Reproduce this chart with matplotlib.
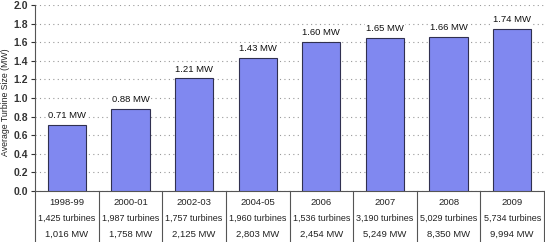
import matplotlib.pyplot as plt
import numpy as np

plt.rcParams['font.family'] = ['Liberation Sans', 'DejaVu Sans']

years = ['1998-99', '2000-01', '2002-03', '2004-05', '2006', '2007', '2008', '2009']
avg_size = [0.71, 0.88, 1.21, 1.43, 1.60, 1.65, 1.66, 1.74]
turbines = ['1,425', '1,987', '1,757', '1,960', '1,536', '3,190', '5,029', '5,734']
capacity = ['1,016', '1,758', '2,125', '2,803', '2,454', '5,249', '8,350', '9,994']

W, H = 545, 242
fig = plt.figure(figsize=(W / 100, H / 100), dpi=100)

# main bar axes
left, right, top, bottom = 35, 544, 5, 191
ax = fig.add_axes([left / W, 1 - bottom / H, (right - left) / W, (bottom - top) / H])

x = np.arange(len(years))
ax.bar(x, avg_size, width=0.6, color='#8088f0', edgecolor='#303050', linewidth=0.8, zorder=3)

for xi, v in zip(x, avg_size):
    ax.annotate('%.2f MW' % v, (xi, v), xytext=(0, 3.5), textcoords='offset points',
                ha='center', va='bottom', fontsize=6.8, color='#111111',
                bbox=dict(facecolor='white', edgecolor='none', pad=1), zorder=4)

ax.set_xlim(-0.5, len(years) - 0.5)
ax.set_ylim(0, 2.0)
ax.set_yticks(np.arange(0, 2.01, 0.2))
ax.set_yticklabels(['%.1f' % t for t in np.arange(0, 2.01, 0.2)])
ax.tick_params(axis='y', labelsize=7.5, colors='#333333', length=3, width=0.8, pad=2)
for lab in ax.get_yticklabels():
    lab.set_fontweight('bold')
ax.set_xticks([])
ax.grid(axis='y', color='#999999', linestyle=(0, (1, 3)), linewidth=0.8, zorder=0)
for s in ['top', 'right']:
    ax.spines[s].set_visible(False)
ax.spines['left'].set_color('#555555')
ax.spines['bottom'].set_color('#555555')

# y label placed by hand so it stays inside the small canvas
fig.text(6 / W, 1 - 102 / H, 'Average Turbine Size (MW)', rotation=90,
         ha='center', va='center', fontsize=6.3, color='#222222')

# table under the bars
tab = fig.add_axes([left / W, 0, (right - left) / W, (H - bottom) / H])
tab.set_xlim(-0.5, len(years) - 0.5)
tab.set_ylim(0, 1)
tab.axis('off')
for b in np.arange(-0.5, len(years), 1.0):
    tab.plot([b, b], [0, 1], color='#555555', linewidth=0.8, clip_on=False)
for xi in x:
    tab.text(xi, 0.78, years[xi], ha='center', va='center', fontsize=6.8, color='#222222')
    tab.text(xi, 0.47, turbines[xi] + ' turbines', ha='center', va='center', fontsize=6.5, color='#222222')
    tab.text(xi, 0.15, capacity[xi] + ' MW', ha='center', va='center', fontsize=6.8, color='#222222')

fig.savefig('out.png', dpi=100)
